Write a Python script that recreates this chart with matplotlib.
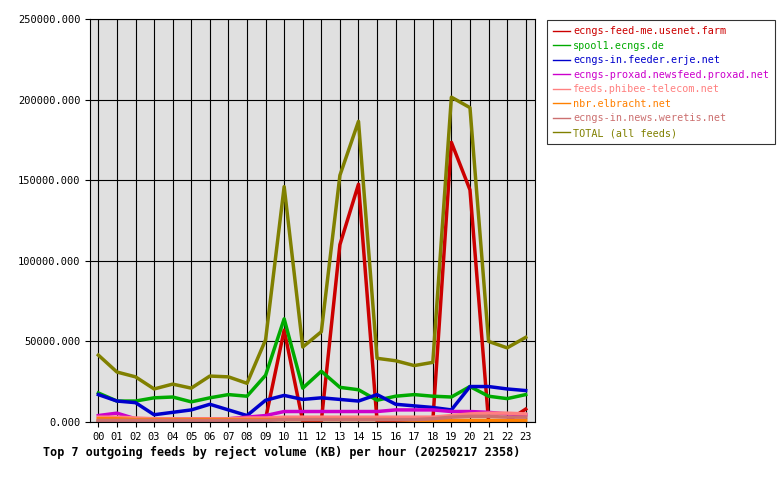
import matplotlib
matplotlib.use('Agg')
import matplotlib.pyplot as plt

hours = ['%02d' % h for h in range(24)]

# 各feed每小时拒绝流量 (KB)
farm = [500, 500, 500, 500, 500, 500, 500, 500, 500, 2000, 57000, 500, 500, 110000, 147500, 500,
        500, 500, 500, 173500, 144000, 500, 500, 8000]
spool1 = [18000, 13000, 13000, 15000, 15500, 12500, 15000, 17000, 16000, 29000, 64000, 21000, 31500,
          21500, 20000, 13500, 16000, 17000, 16000, 15500, 22000, 16000, 14500, 17000]
erje = [17000, 13000, 12000, 4500, 6000, 7500, 11000, 7500, 4000, 13500, 16500, 14000, 15000, 14000,
        13000, 17000, 11000, 10000, 9000, 7500, 22000, 22000, 20500, 19500]
proxad = [4000, 5500, 2000, 2000, 2000, 2000, 2000, 2000, 3000, 4000, 6500, 6500, 6500, 6500, 6500,
          6500, 7500, 7500, 7500, 6500, 6500, 6000, 5000, 4500]
phibee = [3000, 3000, 2500, 2000, 2000, 2000, 2000, 2000, 2500, 2500, 3000, 3000, 3000, 3000, 3000,
          3000, 3000, 3000, 3000, 4000, 5000, 5500, 5500, 5000]
elbracht = [2000, 2000, 1500, 1500, 1500, 1500, 1500, 1500, 1500, 1500, 1500, 1500, 1500, 1500, 1500,
            1500, 1500, 1000, 1000, 1000, 1000, 1000, 1000, 1000]
weretis = [1000, 1000, 1000, 1000, 1000, 1000, 1000, 1000, 1000, 1000, 1500, 1500, 1500, 1500, 1500,
           1500, 1500, 1500, 2000, 3000, 3500, 3500, 3000, 3000]
total = [41500, 31000, 28000, 20500, 23500, 21000, 28500, 28000, 24000, 51000, 146000, 46500, 56000,
         153000, 186500, 39500, 38000, 35000, 37000, 201500, 195000, 50000, 46000, 52500]

series = [
    ('ecngs-feed-me.usenet.farm', farm, '#cc0000'),
    ('spool1.ecngs.de', spool1, '#00aa00'),
    ('ecngs-in.feeder.erje.net', erje, '#0000cc'),
    ('ecngs-proxad.newsfeed.proxad.net', proxad, '#cc00cc'),
    ('feeds.phibee-telecom.net', phibee, '#ff8080'),
    ('nbr.elbracht.net', elbracht, '#ff8000'),
    ('ecngs-in.news.weretis.net', weretis, '#cc7070'),
    ('TOTAL (all feeds)', total, '#808000'),
]

plt.rcParams['font.family'] = 'DejaVu Sans Mono'
fig = plt.figure(figsize=(7.8, 4.8), dpi=100)
ax = fig.add_axes([90 / 780, 58 / 480, 445 / 780, 403 / 480])
ax.set_facecolor('#e0e0e0')
x = list(range(24))
for name, vals, col in series:
    ax.plot(x, vals, color=col, lw=2.5, label=name)
ax.set_xlim(-0.45, 23.5)
ax.set_ylim(0, 250000)
ax.set_xticks(x)
ax.set_xticklabels(hours, fontsize=7.5)
ax.set_yticks(range(0, 250001, 50000))
ax.set_yticklabels(['%d.000' % v for v in range(0, 250001, 50000)], fontsize=7.5)
ax.grid(True, color='black', lw=0.8)
ax.set_axisbelow(True)
for s in ax.spines.values():
    s.set_linewidth(0.8)
fig.text(43 / 780, 1 - 452 / 480,
         'Top 7 outgoing feeds by reject volume (KB) per hour (20250217 2358)',
         fontsize=8.5, fontweight='bold', va='center')

leg = fig.legend(loc='upper left', bbox_to_anchor=(547 / 780, 1 - 20 / 480), borderaxespad=0,
                 fontsize=7.3, frameon=True, fancybox=False, edgecolor='black', handlelength=1.7,
                 handletextpad=0.3, labelspacing=0.45, borderpad=0.6)
leg.get_frame().set_linewidth(0.8)
for t, (_, _, col) in zip(leg.get_texts(), series):
    t.set_color(col)
for h in leg.get_lines():
    h.set_linewidth(1)

fig.savefig('out.png')
